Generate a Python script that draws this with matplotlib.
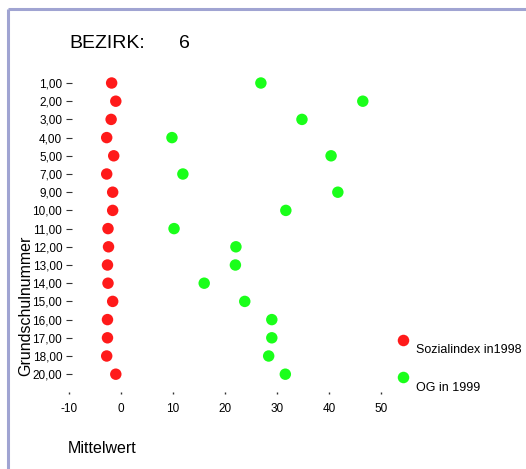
import numpy as np
import matplotlib
matplotlib.use("Agg")
import matplotlib.pyplot as plt
from matplotlib.lines import Line2D

plt.rcParams['font.family'] = ['Liberation Sans', 'DejaVu Sans']

# ---- data ----
schools = ['1,00', '2,00', '3,00', '4,00', '5,00', '7,00', '9,00', '10,00', '11,00',
           '12,00', '13,00', '14,00', '15,00', '16,00', '17,00', '18,00', '20,00']
sozialindex_1998 = [-1.8, -1.0, -1.9, -2.75, -1.4, -2.75, -1.6, -1.6, -2.5,
                    -2.4, -2.6, -2.5, -1.6, -2.6, -2.6, -2.75, -1.0]
og_1999 = [26.9, 46.5, 34.8, 9.8, 40.4, 11.9, 41.7, 31.7, 10.2,
           22.1, 22.0, 16.0, 23.8, 29.0, 29.0, 28.4, 31.6]
x_ticks = [-10, 0, 10, 20, 30, 40, 50]
series_labels = ['Sozialindex in1998', 'OG in 1999']
bezirk = '6'

W, H = 526, 469
fig = plt.figure(figsize=(W / 100, H / 100), dpi=100)

def fx(px):
    return px / W

def fy(py):
    return 1 - py / H

# axes geometry (pixels)
ax_l, ax_r, ax_t, ax_b = 65.7, 420.0, 65.0, 394.0
ax = fig.add_axes([fx(ax_l), fy(ax_b), (ax_r - ax_l) / W, (ax_b - ax_t) / H])

# data scale: x_px = 121 + 5.2*v ; y_px = 83 + 18.2*i
ax.set_xlim((ax_l - 121) / 5.2, (ax_r - 121) / 5.2)
ax.set_ylim((ax_b - 83) / 18.2, (ax_t - 83) / 18.2)

pos = np.arange(len(schools))
red = '#ff1a1a'
green = '#1aff1a'
ms = 68
ax.scatter(sozialindex_1998, pos, s=ms, color=red, edgecolors='none', zorder=3)
ax.scatter(og_1999, pos, s=ms, color=green, edgecolors='none', zorder=3)

for sp in ax.spines.values():
    sp.set_visible(False)

ax.set_yticks(pos)
ax.set_yticklabels(schools)
ax.set_xticks(x_ticks)
ax.set_xticklabels([str(v) for v in x_ticks])
ax.tick_params(axis='y', direction='in', length=4, width=0.8, color='#333333',
               pad=2.5, labelsize=8.5)
ax.tick_params(axis='x', direction='in', length=1.5, width=1.0, color='#333333',
               pad=6.5, labelsize=8.5)

ax.set_xlabel('Mittelwert', fontsize=11.5, ha='left', va='center')
ax.xaxis.set_label_coords((68 - ax_l) / (ax_r - ax_l), (ax_b - 448.5) / (ax_b - ax_t))
ax.set_ylabel('Grundschulnummer', fontsize=11.5)
ax.yaxis.label.set_verticalalignment('center')
ax.yaxis.label.set_horizontalalignment('center')
ax.yaxis.label.set_rotation_mode('default')
ax.yaxis.set_label_coords((25.5 - ax_l) / (ax_r - ax_l), (ax_b - 305.5) / (ax_b - ax_t))

# title
fig.text(fx(69), fy(43), 'BEZIRK:', fontsize=14, ha='left', va='center')
fig.text(fx(179), fy(43), bezirk, fontsize=14, ha='left', va='center')

# legend (manual, marker above-left of text as in reference)
for (my, ty), lab, col in zip([(340, 350), (377, 387.5)], series_labels, [red, green]):
    fig.add_artist(Line2D([fx(403)], [fy(my)], marker='o', markersize=8.3,
                          color=col, markeredgewidth=0, linestyle='none',
                          transform=fig.transFigure))
    fig.text(fx(416), fy(ty), lab, fontsize=9, ha='left', va='center')

# frame border (top and left visible)
bc = '#a0a4d2'
fig.add_artist(Line2D([fx(7.5), fx(7.5)], [fy(9.5), 0], color=bc, lw=2.2,
                      transform=fig.transFigure, solid_capstyle='butt'))
fig.add_artist(Line2D([fx(7.5), 1], [fy(9.5), fy(9.5)], color=bc, lw=2.2,
                      transform=fig.transFigure, solid_capstyle='butt'))

fig.savefig('out.png', dpi=100)
